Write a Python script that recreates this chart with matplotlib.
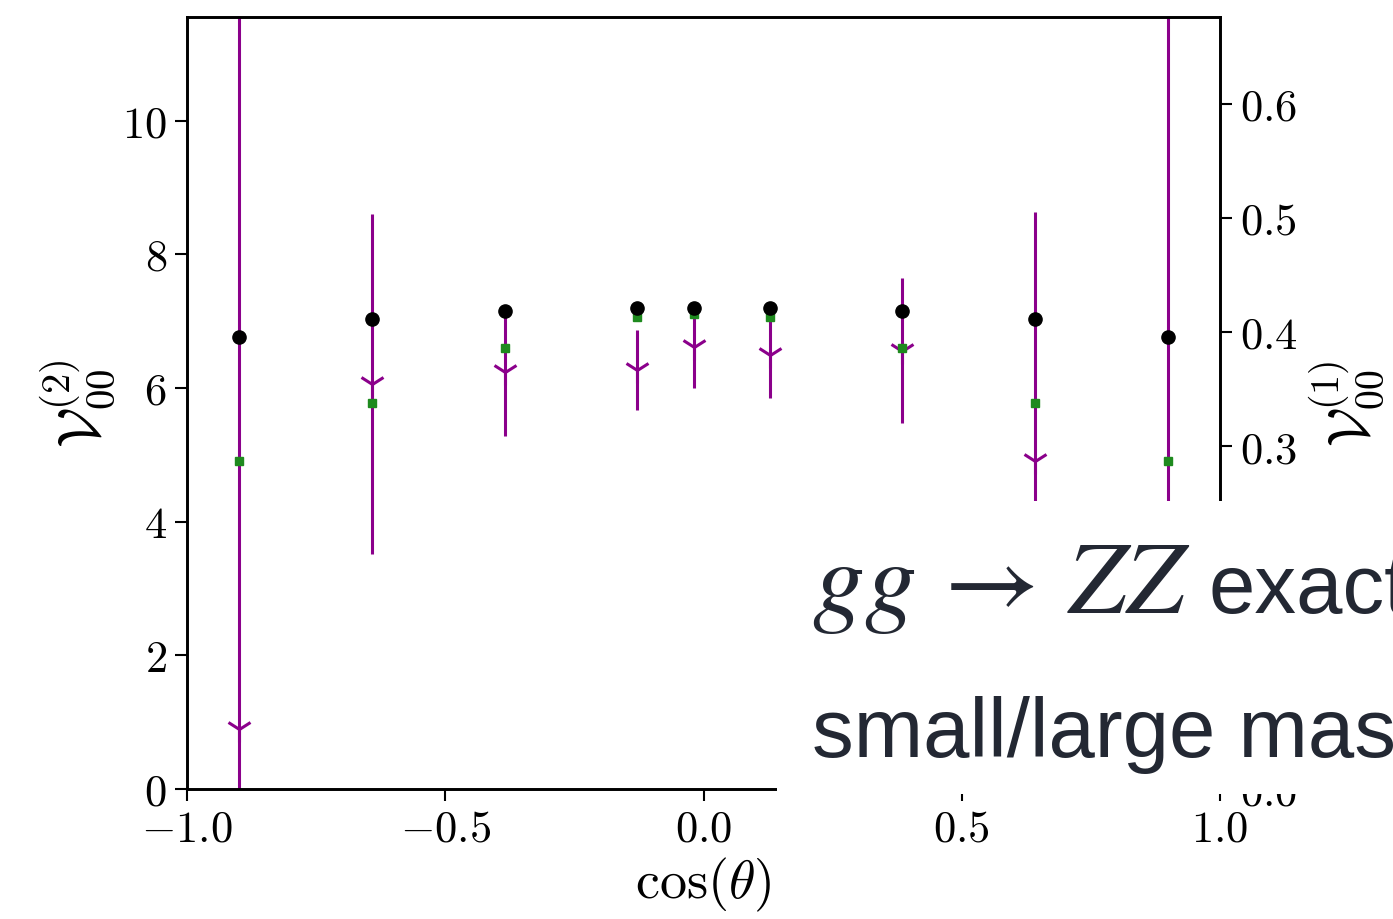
import matplotlib
matplotlib.use("Agg")
import matplotlib.pyplot as plt
from matplotlib.patches import Rectangle
from matplotlib.ticker import FixedLocator, FixedFormatter

plt.rcParams['mathtext.fontset'] = 'cm'
plt.rcParams['font.family'] = 'serif'
plt.rcParams['font.serif'] = ['cmr10', 'DejaVu Serif']

# bin centres in cos(theta)
cos_theta = [-0.90, -0.642, -0.385, -0.128, -0.018, 0.128, 0.385, 0.642, 0.90]

# V00^(2), Monte Carlo with errors (left axis)
v2_val = [0.90, 6.06, 6.24, 6.27, 6.62, 6.49, 6.56, 4.91, 1.5]
v2_err = [12.0, 2.55, 0.96, 0.60, 0.62, 0.64, 1.08, 3.73, 11.0]

# V00^(1), exact and approximation (right axis)
v1_exact = [0.396, 0.412, 0.419, 0.4215, 0.4215, 0.4215, 0.419, 0.412, 0.396]
v1_approx = [0.287, 0.338, 0.386, 0.413, 0.416, 0.413, 0.386, 0.338, 0.287]

x_ticks = [-1.0, -0.5, 0.0, 0.5, 1.0]
x_labels = [r'$-1.0$', r'$-0.5$', r'$0.0$', r'$0.5$', r'$1.0$']
y2_ticks = [0, 2, 4, 6, 8, 10]
y2_labels = [r'$0$', r'$2$', r'$4$', r'$6$', r'$8$', r'$10$']
y1_ticks = [0.0, 0.1, 0.2, 0.3, 0.4, 0.5, 0.6]
y1_labels = [r'$0.0$', r'$0.1$', r'$0.2$', r'$0.3$', r'$0.4$', r'$0.5$', r'$0.6$']

W, H = 1393, 920
fig = plt.figure(figsize=(W / 100, H / 100), dpi=100)
ax = fig.add_axes([187 / W, 1 - 790 / H, (1220 - 187) / W, (790 - 18) / H])

ax.errorbar(cos_theta, v2_val, yerr=v2_err, fmt='1', color='#8b008b',
            ecolor='#8b008b', elinewidth=2.2, markersize=19, mew=2.2,
            capsize=0)
ax.set_xlim(-1, 1)
ax.set_ylim(0, 11.55)

ax2 = ax.twinx()
ax2.plot(cos_theta, v1_approx, 's', color='#1e8a1e', markersize=6)
ax2.plot(cos_theta, v1_exact, 'o', color='black', markersize=9.5)
ax2.set_ylim(0, 0.6762)

fs = 32
for a in (ax, ax2):
    for sp in a.spines.values():
        sp.set_linewidth(1.9)
    a.tick_params(direction='out', length=8.5, width=1.5, pad=6,
                  labelsize=fs)

ax.xaxis.set_major_locator(FixedLocator(x_ticks))
ax.xaxis.set_major_formatter(FixedFormatter(x_labels))
ax.yaxis.set_major_locator(FixedLocator(y2_ticks))
ax.yaxis.set_major_formatter(FixedFormatter(y2_labels))
ax2.yaxis.set_major_locator(FixedLocator(y1_ticks))
ax2.yaxis.set_major_formatter(FixedFormatter(y1_labels))

ax.set_xlabel(r'$\cos(\theta)$', fontsize=39, labelpad=4)
ax.set_ylabel(r'$\mathcal{V}_{00}^{(2)}$', fontsize=42, labelpad=4)
ax2.set_ylabel(r'$\mathcal{V}_{00}^{(1)}$', fontsize=41, labelpad=6)

# white box from the slide covering part of the plot
fig.add_artist(Rectangle((777 / W, 1 - 795 / H), 1 - 777 / W, (795 - 502) / H,
                         transform=fig.transFigure, facecolor='white',
                         edgecolor='none', zorder=10))
fig.text(812 / W, 1 - 613 / H, r'$gg\,\rightarrow\,ZZ$', fontsize=75,
         math_fontfamily='stix', color='#232833', va='baseline', zorder=11)
fig.text(1208 / W, 1 - 613 / H, 'exact', fontsize=60,
         family='Liberation Sans', color='#232833', va='baseline', zorder=11)
fig.text(812 / W, 1 - 757 / H, 'small/large mass', fontsize=60,
         family='Liberation Sans', color='#232833', va='baseline', zorder=11)

fig.savefig('out.png', dpi=100)
